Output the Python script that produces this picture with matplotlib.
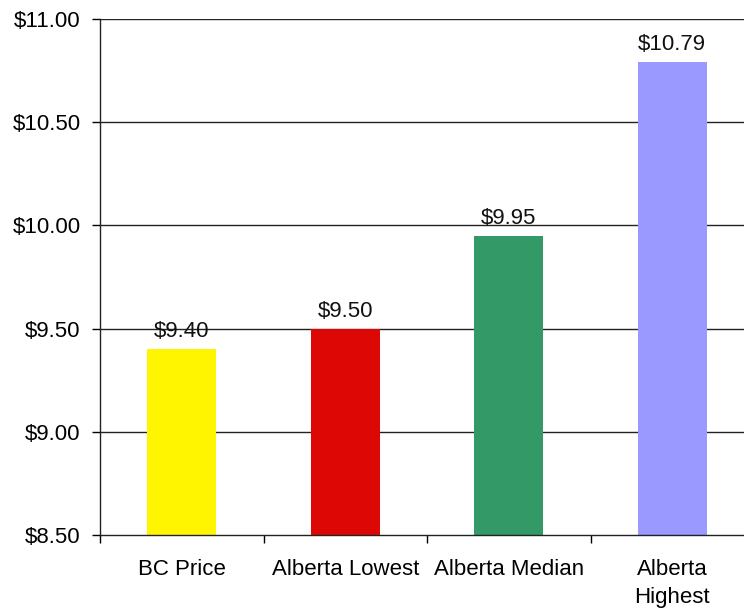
import matplotlib
matplotlib.use("Agg")
import matplotlib.pyplot as plt
import numpy as np

categories = ["BC Price", "Alberta Lowest", "Alberta Median", "Alberta\nHighest"]
values = [9.40, 9.50, 9.95, 10.79]
labels = ["$9.40", "$9.50", "$9.95", "$10.79"]
colors = ["#FFF500", "#DD0806", "#339966", "#9999FF"]
yticks = [8.5, 9.0, 9.5, 10.0, 10.5, 11.0]
ytick_labels = ["$8.50", "$9.00", "$9.50", "$10.00", "$10.50", "$11.00"]

plt.rcParams['font.family'] = ['Liberation Sans', 'DejaVu Sans']

fig = plt.figure(figsize=(7.44, 6.12), dpi=100)
ax = fig.add_axes([100/744, 77/612, 654/744, 516/612])

x = np.arange(len(categories))
ax.bar(x, values, width=0.42, color=colors, zorder=2)
for xi, v, lab in zip(x, values, labels):
    ax.annotate(lab, (xi, v), xytext=(0, 5), textcoords="offset points",
                ha="center", va="bottom", fontsize=16, color="#111111")

ax.set_ylim(8.5, 11.0)
ax.set_xlim(-0.5, 3.5)
ax.set_yticks(yticks)
ax.set_yticklabels(ytick_labels, fontsize=16)
for yv in yticks[1:]:
    ax.axhline(yv, color="#222222", linewidth=1.0, zorder=1)

ax.set_xticks(x)
ax.set_xticklabels(categories, fontsize=16, linespacing=1.45)
ax.tick_params(axis="x", which="major", length=0, pad=17)
ax.set_xticks(np.arange(-0.5, 4.0, 1.0), minor=True)
ax.tick_params(axis="x", which="minor", length=6, width=1, direction="out")
ax.tick_params(axis="y", length=6, width=1, direction="out", pad=8)

for s in ["top", "right"]:
    ax.spines[s].set_visible(False)
for s in ["left", "bottom"]:
    ax.spines[s].set_color("#222222")
    ax.spines[s].set_linewidth(1.0)

fig.savefig("out.png", dpi=100)
